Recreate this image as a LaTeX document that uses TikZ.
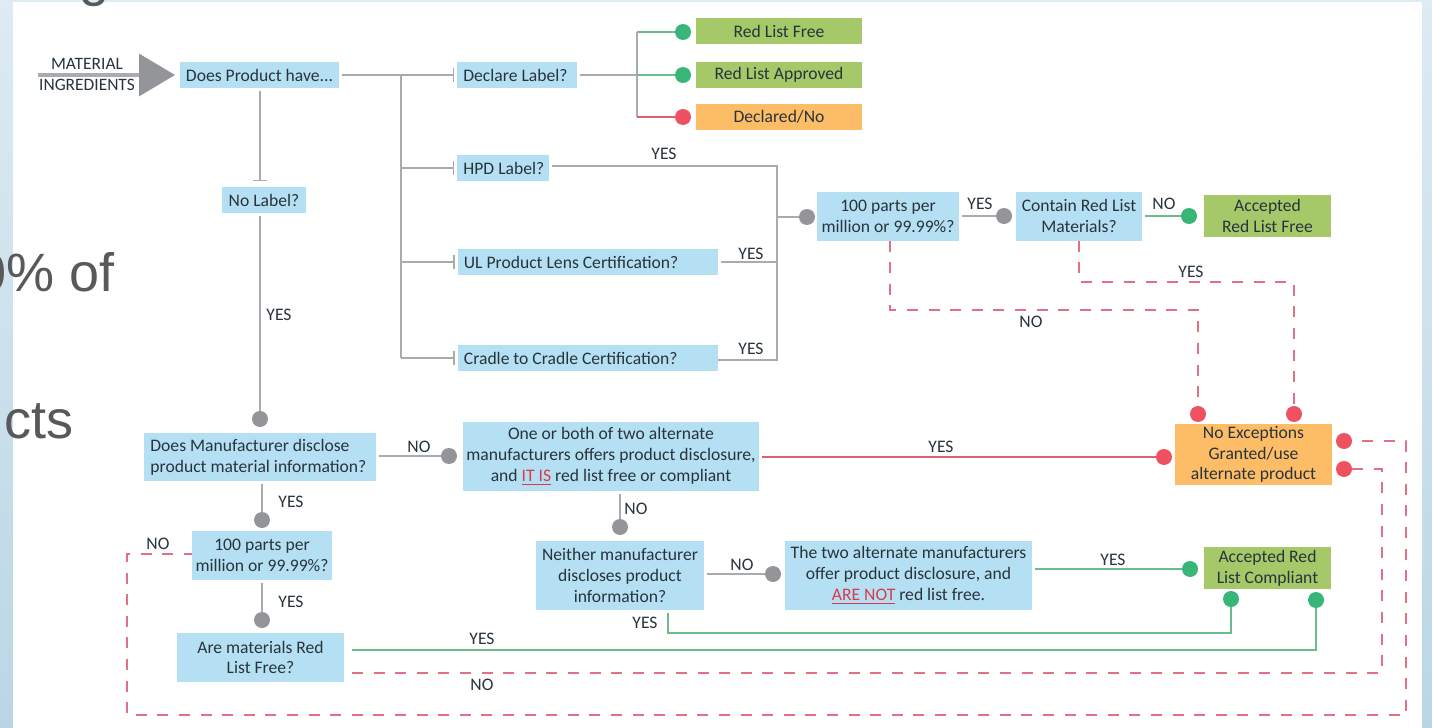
\documentclass[tikz,border=0pt]{standalone}
\usepackage{fontspec}
\setmainfont{Carlito}
\newfontfamily\slidefont{Liberation Sans}
\usetikzlibrary{arrows.meta}
\definecolor{bluebox}{HTML}{B5E0F3}
\definecolor{greenbox}{HTML}{A5C868}
\definecolor{orangebox}{HTML}{FDBC66}
\definecolor{reddot}{HTML}{EE5262}
\definecolor{greendot}{HTML}{38B678}
\definecolor{graydot}{HTML}{939598}
\definecolor{grayline}{HTML}{A9ABAE}
\definecolor{greenline}{HTML}{6CBB8C}
\definecolor{redline}{HTML}{E0606F}
\definecolor{dashline}{HTML}{E27082}
\definecolor{ink}{HTML}{28343C}
\definecolor{slidetext}{HTML}{58595B}
\definecolor{alert}{HTML}{D93A4C}
\definecolor{bgtop}{HTML}{DDEBF3}
\definecolor{bgbot}{HTML}{BAD6E5}
\newcommand{\alertu}[1]{\textcolor{alert}{\underline{#1}}}
\tikzset{
  x=0.5pt,y=-0.5pt,
  box/.style={inner sep=0pt,outer sep=0pt,align=center,text=ink,font=\fontsize{8.8}{10.4}\selectfont},
  qbox/.style={box,fill=bluebox},
  lbox/.style={qbox,align=flush left,inner xsep=3.2pt},
  gbox/.style={box,fill=greenbox},
  obox/.style={box,fill=orangebox},
  lab/.style={inner sep=0pt,text=ink,font=\fontsize{8.8}{9}\selectfont},
  inlab/.style={lab,font=\fontsize{8.7}{9}\selectfont},
  dot/.style={circle,inner sep=0pt,minimum size=8pt},
  gdot/.style={dot,fill=graydot},
  rdot/.style={dot,fill=reddot},
  vdot/.style={dot,fill=greendot},
  gl/.style={draw=grayline,line width=1.4pt},
  vl/.style={draw=greenline,line width=1.4pt},
  rl/.style={draw=redline,line width=1.4pt},
  dl/.style={draw=dashline,line width=1.3pt,dash pattern=on 5.5pt off 5.3pt},
  tee/.style={gl,-{Bar[width=7pt,line width=0.6pt]},shorten >=1.5pt},
  off/.style={shorten <=1.5pt},
  big/.style={inner sep=0pt,text=slidetext,font=\slidefont\fontsize{27}{27}\selectfont},
}
\begin{document}
\begin{tikzpicture}
\useasboundingbox (0,0) rectangle (1432,728);
\begin{scope}
\clip (0,0) rectangle (1432,728);
\shade[top color=bgtop,bottom color=bgbot] (0,0) rectangle (1432,728);
\fill[white] (13,2) rectangle (1422,728);
\node[big,anchor=base east] (frag1) at (115,291) {0\% of};
\node[big,anchor=base east] (frag2) at (74,438) {cts};
\node[big,anchor=base east] (frag3) at (110,-4) {g};
\end{scope}

% boxes
\node[qbox,minimum width=79.5pt,minimum height=13pt] (dp) at (259.5,75) {Does Product have...};
\node[qbox,minimum width=42pt,minimum height=13pt] (nl) at (264,200) {No Label?};
\node[lbox,text width=53.6pt,minimum height=13pt] (decl) at (517,75) {Declare Label?};
\node[lbox,text width=39.6pt,minimum height=13pt] (hpd) at (503,168) {\mbox{HPD Label?}};
\node[lbox,text width=123.6pt,minimum height=13pt] (ul) at (587.5,262) {UL Product Lens Certification?};
\node[lbox,text width=123.6pt,minimum height=13pt] (cc) at (587.5,358) {Cradle to Cradle Certification?};
\node[gbox,minimum width=83pt,minimum height=13pt] (rlf) at (779,31) {Red List Free};
\node[gbox,minimum width=83pt,minimum height=13pt] (rla) at (779,75) {Red List Approved};
\node[obox,minimum width=83pt,minimum height=13pt] (dno) at (779,117) {Declared/No};
\node[qbox,minimum width=71pt,minimum height=24.5pt] (hp) at (888,216) {100 parts per\\million or 99.99\%?};
\node[qbox,minimum width=63pt,minimum height=24.5pt] (crl) at (1079,216) {Contain Red List\\Materials?};
\node[gbox,minimum width=63.5pt,minimum height=21pt] (arf) at (1267.5,216) {Accepted\\Red List Free};
\node[obox,minimum width=78.5pt,minimum height=30.5pt] (nex) at (1253.5,454.5) {No Exceptions\\Granted/use\\alternate product};
\node[gbox,minimum width=63.5pt,minimum height=21pt] (arc) at (1267.5,568) {Accepted Red\\List Compliant};
\node[lbox,text width=109.6pt,minimum height=24pt] (dm) at (260,457) {\mbox{Does Manufacturer disclose}\\\mbox{product material information?}};
\node[qbox,minimum width=148pt,minimum height=34.5pt] (ob) at (611,456.5) {One or both of two alternate\\manufacturers offers product disclosure,\\and \alertu{IT IS} red list free or compliant};
\node[qbox,minimum width=84pt,minimum height=34.5pt] (nm) at (620,575.5) {Neither manufacturer\\discloses product\\information?};
\node[qbox,minimum width=123.5pt,minimum height=34.5pt] (tw) at (908.5,575.5) {The two alternate manufacturers\\offer product disclosure, and\\\alertu{ARE NOT} red list free.};
\node[qbox,minimum width=70pt,minimum height=24.5pt] (hq) at (262,555.5) {100 parts per\\million or 99.99\%?};
\node[qbox,minimum width=83.5pt,minimum height=24.5pt] (am) at (260.5,657.5) {Are materials Red\\List Free?};

% dots
\node[gdot] (d1) at (260,419) {};
\node[gdot] (d2) at (449,456) {};
\node[gdot] (d3) at (262,520) {};
\node[gdot] (d4) at (262,620) {};
\node[gdot] (d5) at (620,527) {};
\node[gdot] (d6) at (773,574) {};
\node[gdot] (d7) at (807,217) {};
\node[gdot] (d8) at (1004,216) {};
\node[vdot] (v1) at (683,32) {};
\node[vdot] (v2) at (683,75) {};
\node[rdot] (r1) at (683,117) {};
\node[vdot] (v3) at (1189,216) {};
\node[vdot] (v4) at (1190,569) {};
\node[vdot] (v5) at (1231,599) {};
\node[vdot] (v6) at (1316,600) {};
\node[rdot] (r2) at (1164,457) {};
\node[rdot] (r3) at (1198,414) {};
\node[rdot] (r4) at (1294,414) {};
\node[rdot] (r5) at (1344,441) {};
\node[rdot] (r6) at (1344,469) {};

% corner and junction points
\coordinate (ms) at (38,75);
\coordinate (tr0) at (401,75);
\coordinate (tr1) at (401,168);
\coordinate (tr2) at (401,262);
\coordinate (tr3) at (401,358);
\coordinate (sp) at (637,75);
\coordinate (hc0) at (777,166);
\coordinate (hc1) at (777,262);
\coordinate (hc2) at (777,217);
\coordinate (hc3) at (777,360);
\coordinate (nc) at (890,310);
\coordinate (yc) at (1079,282);
\coordinate (nyc) at (668,633);
\coordinate (amc) at (1316,650);
\coordinate (ri) at (1382,673);
\coordinate (ro) at (1406,715);
\coordinate (lo) at (127,715);
\coordinate (lu) at (127,554);
\coordinate (nlx) at (260,200);

% input arrow
\draw[line width=1.8pt,-{Triangle[length=18pt,width=21pt,color=graydot]},color=grayline,shorten >=2.5pt] (ms) -- (dp);

% gray connectors
\draw[gl,off] (dp.east) -- (tr0);
\draw[tee] (tr0) -- (decl.west);
\draw[gl] (tr0) -- (tr3);
\draw[tee] (tr1) -- (hpd.west);
\draw[tee] (tr2) -- (ul.west);
\draw[tee] (tr3) -- (cc.west);
\draw[tee,off,shorten >=3pt] (dp.south -| nlx) -- (nl.north -| nlx);
\draw[gl,off] (nl.south -| d1) -- (d1);
\draw[gl,off] (dm.east |- d2) -- (d2);
\draw[gl,off] (dm.south -| d3) -- (d3);
\draw[gl,off] (hq.south -| d4) -- (d4);
\draw[gl,off] (ob.south -| d5) -- (d5);
\draw[gl,off] (nm.east |- d6) -- (d6);
\draw[gl,off] (decl.east) -- (sp);
\draw[gl,off] (hpd.east |- hc0) -- (hc0) -- (hc3) -- (cc.east |- hc3);
\draw[gl,off] (ul.east |- hc1) -- (hc1);
\draw[gl] (hc2) -- (d7);
\draw[gl,off] (hp.east |- d8) -- (d8);

% green and red solid connectors
\draw[gl] (sp |- v1) -- (sp |- r1);
\draw[vl] (sp |- v1) -- (v1);
\draw[vl] (sp) -- (v2);
\draw[rl] (sp |- r1) -- (r1);
\draw[vl,off] (crl.east |- v3) -- (v3);
\draw[vl,off] (tw.east |- v4) -- (v4);
\draw[vl,off] (nm.south -| nyc) -- (nyc) -- (nyc -| v5) -- (v5);
\draw[vl,shorten <=4pt] (am.east |- amc) -- (amc) -- (v6);
\draw[rl,off] (ob.east |- r2) -- (r2);

% dashed connectors
\draw[dl] (hp.south -| nc) -- (nc) -- (nc -| r3) -- (r3);
\draw[dl] (crl.south -| yc) -- (yc) -- (yc -| r4) -- (r4);
\draw[dl,shorten <=4pt] (am.east |- ri) -- (ri) -- (ri |- r6) -- (r6);
\draw[dl,shorten <=5pt] (r5) -- (ro |- r5) -- (ro) -- (lo) -- (lu) -- (hq.west |- lu);

% labels
\node[inlab] (m1) at (87,64) {MATERIAL};
\node[inlab] (m2) at (87,85) {INGREDIENTS};
\node[lab] (t1) at (279,315) {YES};
\node[lab] (t2) at (419,447) {NO};
\node[lab] (t3) at (291,502) {YES};
\node[lab] (t4) at (291,602) {YES};
\node[lab] (t5) at (158,544) {NO};
\node[lab] (t6) at (664,154) {YES};
\node[lab] (t7) at (751,254) {YES};
\node[lab] (t8) at (751,349) {YES};
\node[lab] (t9) at (980,204) {YES};
\node[lab] (t10) at (1164,204) {NO};
\node[lab] (t11) at (1191,272) {YES};
\node[lab] (t12) at (1031,322) {NO};
\node[lab] (t13) at (941,447) {YES};
\node[lab] (t14) at (636,509) {NO};
\node[lab] (t15) at (742,565) {NO};
\node[lab] (t16) at (1113,560) {YES};
\node[lab] (t17) at (645,623) {YES};
\node[lab] (t18) at (482,639) {YES};
\node[lab] (t19) at (482,685) {NO};
\end{tikzpicture}
\end{document}
